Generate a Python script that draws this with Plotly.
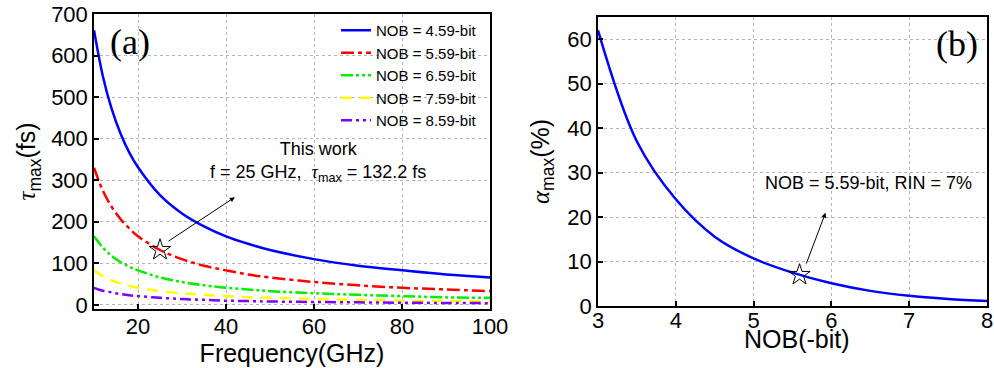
import plotly.graph_objects as go

# ---- Data (a) ----
freq = [10, 12, 14, 16, 18, 20, 25, 30, 35, 40, 45, 50, 60, 70, 80, 90, 100]
tau_459 = [661, 551, 472, 413, 367, 331, 264, 220, 189, 165, 147, 132, 110, 94, 83, 73, 66]
tau_559 = [330, 275, 236, 207, 184, 165, 132, 110, 94, 83, 73, 66, 55, 47, 41, 37, 33]
tau_659 = [165, 138, 118, 103, 92, 83, 66, 55, 47, 41, 37, 33, 28, 24, 21, 18, 17]
tau_759 = [83, 69, 59, 52, 46, 41, 33, 28, 24, 21, 18, 17, 14, 12, 10, 9, 8]
tau_859 = [41, 34, 30, 26, 23, 21, 17, 14, 12, 10, 9, 8, 7, 6, 5, 4.6, 4]
series_names = ["NOB = 4.59-bit", "NOB = 5.59-bit", "NOB = 6.59-bit", "NOB = 7.59-bit", "NOB = 8.59-bit"]
star_a = (25, 132.2)

# ---- Data (b) ----
nob = [3, 3.5, 4, 4.5, 5, 5.5, 6, 6.5, 7, 7.5, 8]
alpha = [62, 37, 24, 15.6, 10.7, 7.5, 5.1, 3.4, 2.3, 1.6, 1.1]
star_b = (5.59, 7)

colors = ["#0000ff", "#ff0000", "#00ee00", "#ffff00", "#7f00ff"]
dashes = ["solid", "13px,4px,4px,4px", "12px,3px,3px,3px,3px,3px", "11px,8px", "11px,4px,3px,4px,3px,4px"]

W, H = 994, 368
fig = go.Figure()
for ys, name, c, d in zip([tau_459, tau_559, tau_659, tau_759, tau_859], series_names, colors, dashes):
    fig.add_trace(go.Scatter(x=freq, y=ys, mode="lines", name=name,
                             line=dict(color=c, width=2.5, dash=d, shape="spline"),
                             xaxis="x", yaxis="y"))
fig.add_trace(go.Scatter(x=[star_a[0]], y=[star_a[1]], mode="markers", showlegend=False,
                         marker=dict(symbol="star-open", size=16, color="black", line=dict(width=1)),
                         xaxis="x", yaxis="y"))
fig.add_trace(go.Scatter(x=nob, y=alpha, mode="lines", showlegend=False,
                         line=dict(color="#0000ff", width=2.5, shape="spline"),
                         xaxis="x2", yaxis="y2"))
fig.add_trace(go.Scatter(x=[star_b[0]], y=[star_b[1]], mode="markers", showlegend=False,
                         marker=dict(symbol="star-open", size=16, color="black", line=dict(width=1)),
                         xaxis="x2", yaxis="y2"))

axcommon = dict(showline=True, linecolor="black", linewidth=1.5, mirror=True,
                ticks="inside", ticklen=5, tickwidth=1.5, tickcolor="black",
                showgrid=True, gridcolor="#b5b5b5", gridwidth=1, griddash="dot",
                zeroline=False, tickfont=dict(size=22, color="black"), automargin=False)

tau_html = '<span style="font-family:Liberation Serif"><i>τ</i></span><sub>max</sub>'
alpha_html = '<span style="font-family:Liberation Serif"><i>α</i></span><sub>max</sub>'

fig.update_layout(
    width=W, height=H, margin=dict(l=0, r=0, t=0, b=0),
    paper_bgcolor="white", plot_bgcolor="white",
    font=dict(family="Liberation Sans, Arial", color="black"),
    xaxis=dict(domain=[94/W, 490/W], range=[10, 100], tickvals=[20, 40, 60, 80, 100], ticklabelstandoff=-3,
               title=dict(text="Frequency(GHz)", font=dict(size=25), standoff=4), anchor="y", **axcommon),
    yaxis=dict(domain=[(H-309)/H, (H-14)/H], range=[-10, 700], tickvals=list(range(0, 701, 100)),
               title=dict(text=tau_html + "(fs)", font=dict(size=25), standoff=8), anchor="x", **axcommon),
    xaxis2=dict(domain=[598/W, 987/W], range=[3, 8], tickvals=[3, 4, 5, 6, 7, 8], ticklabelstandoff=-6,
                anchor="y2", **axcommon),
    yaxis2=dict(domain=[(H-306)/H, (H-17)/H], range=[0, 65], tickvals=list(range(0, 61, 10)),
                title=dict(text=alpha_html + "(%)", font=dict(size=25), standoff=11), anchor="x2", **axcommon),
    legend=dict(x=336/W, y=1-14/H, xanchor="left", yanchor="top", bgcolor="rgba(0,0,0,0)",
                font=dict(size=15), borderwidth=0, tracegroupgap=0),
    showlegend=True,
)

fig.add_annotation(x=797/W, y=1-339/H, xref="paper", yref="paper", text="NOB(-bit)", showarrow=False,
                   xanchor="center", yanchor="middle", font=dict(size=25))

fig.add_annotation(x=130/W, y=1-42/H, xref="paper", yref="paper", text="(a)", showarrow=False,
                   xanchor="center", yanchor="middle", font=dict(family="Liberation Serif", size=36))
fig.add_annotation(x=957/W, y=1-44/H, xref="paper", yref="paper", text="(b)", showarrow=False,
                   xanchor="center", yanchor="middle", font=dict(family="Liberation Serif", size=36))

fig.add_annotation(x=61, y=344, xref="x", yref="y", showarrow=False,
                   text="This work<br>f = 25 GHz,  " + tau_html + " = 132.2 fs",
                   font=dict(size=18), align="center")
fig.add_annotation(x=42, y=259, xref="x", yref="y", ax=26.6, ay=151, axref="x", ayref="y",
                   text="", showarrow=True, arrowhead=2, arrowsize=1, arrowwidth=1, arrowcolor="black")
fig.add_annotation(x=6.48, y=27.6, xref="x2", yref="y2", showarrow=False,
                   text="NOB = 5.59-bit, RIN = 7%", font=dict(size=18))
fig.add_annotation(x=5.925, y=21, xref="x2", yref="y2", ax=5.67, ay=9.2, axref="x2", ayref="y2",
                   text="", showarrow=True, arrowhead=2, arrowsize=1, arrowwidth=1, arrowcolor="black")

fig.write_html("out.html")
